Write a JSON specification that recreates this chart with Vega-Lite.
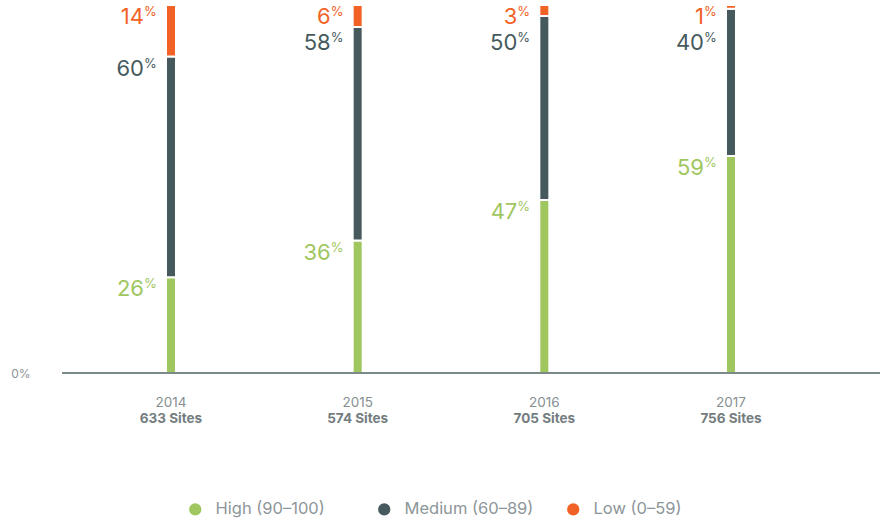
{
  "$schema": "https://vega.github.io/schema/vega-lite/v6.json",
  "width": 818,
  "height": 368,
  "autosize": {"type": "none"},
  "padding": {"left": 62, "top": 5, "right": 2, "bottom": 150},
  "background": "white",
  "config": {"view": {"stroke": null}, "font": "Inter"},
  "data": {
    "values": [
      {"year": "2014", "sites": "633 Sites", "level": "High (90–100)", "pct": 26},
      {"year": "2014", "sites": "633 Sites", "level": "Medium (60–89)", "pct": 60},
      {"year": "2014", "sites": "633 Sites", "level": "Low (0–59)", "pct": 14},
      {"year": "2015", "sites": "574 Sites", "level": "High (90–100)", "pct": 36},
      {"year": "2015", "sites": "574 Sites", "level": "Medium (60–89)", "pct": 58},
      {"year": "2015", "sites": "574 Sites", "level": "Low (0–59)", "pct": 6},
      {"year": "2016", "sites": "705 Sites", "level": "High (90–100)", "pct": 47},
      {"year": "2016", "sites": "705 Sites", "level": "Medium (60–89)", "pct": 50},
      {"year": "2016", "sites": "705 Sites", "level": "Low (0–59)", "pct": 3},
      {"year": "2017", "sites": "756 Sites", "level": "High (90–100)", "pct": 59},
      {"year": "2017", "sites": "756 Sites", "level": "Medium (60–89)", "pct": 40},
      {"year": "2017", "sites": "756 Sites", "level": "Low (0–59)", "pct": 1}
    ]
  },
  "transform": [
    {"calculate": "indexof(['High (90–100)', 'Medium (60–89)', 'Low (0–59)'], datum.level)", "as": "rank"},
    {"stack": "pct", "groupby": ["year"], "sort": [{"field": "rank", "order": "ascending"}], "as": ["start", "end"]},
    {"calculate": "datum.rank == 1 ? min(datum.end, 93) : datum.end", "as": "labelY"}
  ],
  "layer": [
    {
      "mark": {"type": "bar", "size": 10, "stroke": "white", "strokeWidth": 2},
      "encoding": {
        "x": {"field": "year", "type": "ordinal", "scale": {"type": "point", "range": [109, 669], "padding": 0}, "axis": null},
        "y": {
          "field": "start", "type": "quantitative",
          "scale": {"domain": [0, 100]},
          "axis": {"title": null, "values": [0], "labelExpr": "'0%'", "domain": false, "ticks": false, "grid": false, "labelPadding": 32, "labelFontSize": 12, "labelColor": "#8a9396", "labelFont": "Inter"}
        },
        "y2": {"field": "end"},
        "color": {
          "field": "level", "type": "nominal",
          "scale": {"domain": ["High (90–100)", "Medium (60–89)", "Low (0–59)"], "range": ["#9fc65f", "#465a5e", "#f26125"]},
          "legend": {
            "title": null, "orient": "none", "direction": "horizontal", "legendX": 125, "legendY": 496,
            "symbolType": "circle", "symbolSize": 150, "symbolStrokeWidth": 0, "labelFontSize": 16.5,
            "labelColor": "#8d9699", "labelFont": "Inter", "columnPadding": 31, "gridAlign": "all",
            "labelOffset": 12, "padding": 0
          }
        }
      }
    },
    {
      "mark": {"type": "rule", "color": "#7d898b", "strokeWidth": 1},
      "encoding": {"y": {"datum": 0}}
    },
    {
      "mark": {"type": "text", "align": "right", "baseline": "alphabetic", "dx": -27, "dy": 19, "fontSize": 22},
      "encoding": {
        "x": {"field": "year", "type": "ordinal"},
        "y": {"field": "labelY", "type": "quantitative"},
        "text": {"field": "pct"},
        "color": {"field": "level", "type": "nominal", "legend": null}
      }
    },
    {
      "mark": {"type": "text", "align": "left", "baseline": "alphabetic", "dx": -27, "dy": 11, "fontSize": 13},
      "encoding": {
        "x": {"field": "year", "type": "ordinal"},
        "y": {"field": "labelY", "type": "quantitative"},
        "text": {"value": "%"},
        "color": {"field": "level", "type": "nominal", "legend": null}
      }
    },
    {
      "transform": [{"filter": "datum.rank == 0"}],
      "mark": {"type": "text", "baseline": "middle", "dy": 30, "fontSize": 13.5, "color": "#868f92"},
      "encoding": {
        "x": {"field": "year", "type": "ordinal"},
        "y": {"datum": 0},
        "text": {"field": "year"}
      }
    },
    {
      "transform": [{"filter": "datum.rank == 0"}],
      "mark": {"type": "text", "baseline": "middle", "dy": 46, "fontSize": 13.5, "fontWeight": "bold", "color": "#737d80"},
      "encoding": {
        "x": {"field": "year", "type": "ordinal"},
        "y": {"datum": 0},
        "text": {"field": "sites"}
      }
    }
  ]
}
